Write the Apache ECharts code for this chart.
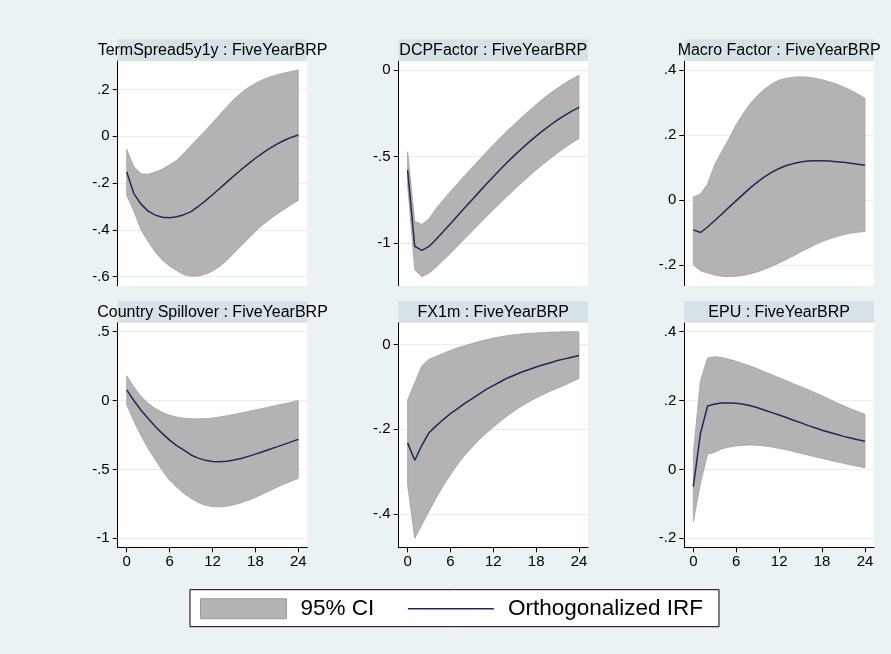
<!DOCTYPE html>
<html><head><meta charset="utf-8">
<script src="https://cdn.jsdelivr.net/npm/echarts@6/dist/echarts.min.js"></script>
<style>html,body{margin:0;padding:0;background:#eaf2f3}#c{width:891px;height:654px}</style>
</head><body><div id="c"></div>
<script>
// ---- data ----
const steps = [0,1,2,3,4,5,6,7,8,9,10,11,12,13,14,15,16,17,18,19,20,21,22,23,24];
const panelTitles = ['TermSpread5y1y : FiveYearBRP','DCPFactor : FiveYearBRP','Macro Factor : FiveYearBRP',
  'Country Spillover : FiveYearBRP','FX1m : FiveYearBRP','EPU : FiveYearBRP'];

const termIrf = [-0.153,-0.245,-0.29,-0.32,-0.337,-0.346,-0.348,-0.344,-0.335,-0.322,-0.30,-0.276,-0.25,-0.223,-0.196,-0.169,-0.143,-0.118,-0.094,-0.072,-0.052,-0.034,-0.018,-0.005,0.005];
const termHi  = [-0.056,-0.13,-0.16,-0.162,-0.153,-0.14,-0.122,-0.103,-0.072,-0.04,-0.008,0.025,0.058,0.092,0.126,0.158,0.186,0.208,0.226,0.241,0.253,0.262,0.27,0.277,0.283];
const termLo  = [-0.253,-0.32,-0.40,-0.45,-0.495,-0.53,-0.555,-0.574,-0.592,-0.598,-0.597,-0.59,-0.576,-0.556,-0.531,-0.50,-0.468,-0.437,-0.407,-0.379,-0.355,-0.333,-0.313,-0.293,-0.274];

const dcpIrf = [-0.579,-1.02,-1.043,-1.02,-0.978,-0.934,-0.889,-0.843,-0.797,-0.751,-0.706,-0.661,-0.617,-0.574,-0.532,-0.492,-0.454,-0.417,-0.382,-0.349,-0.318,-0.289,-0.262,-0.238,-0.216];
const dcpHi  = [-0.473,-0.873,-0.893,-0.86,-0.8,-0.75,-0.703,-0.656,-0.61,-0.565,-0.52,-0.476,-0.433,-0.391,-0.35,-0.311,-0.273,-0.236,-0.2,-0.165,-0.133,-0.104,-0.077,-0.052,-0.03];
const dcpLo  = [-0.666,-1.155,-1.195,-1.175,-1.14,-1.1,-1.06,-1.018,-0.976,-0.934,-0.892,-0.85,-0.809,-0.768,-0.728,-0.689,-0.651,-0.614,-0.578,-0.544,-0.511,-0.48,-0.45,-0.422,-0.396];

const macroIrf = [-0.092,-0.1,-0.083,-0.063,-0.043,-0.022,-0.002,0.018,0.038,0.056,0.072,0.086,0.097,0.106,0.112,0.117,0.12,0.121,0.121,0.12,0.118,0.116,0.113,0.11,0.107];
const macroHi  = [0.01,0.018,0.05,0.11,0.15,0.19,0.232,0.267,0.298,0.322,0.342,0.358,0.369,0.375,0.378,0.379,0.378,0.375,0.37,0.364,0.357,0.348,0.338,0.326,0.313];
const macroLo  = [-0.2,-0.218,-0.225,-0.231,-0.235,-0.236,-0.235,-0.232,-0.227,-0.221,-0.213,-0.204,-0.194,-0.183,-0.172,-0.16,-0.149,-0.138,-0.128,-0.12,-0.113,-0.107,-0.102,-0.099,-0.097];

const spillIrf = [0.078,0.0,-0.07,-0.13,-0.188,-0.24,-0.287,-0.327,-0.36,-0.395,-0.418,-0.434,-0.443,-0.445,-0.441,-0.432,-0.42,-0.405,-0.389,-0.372,-0.354,-0.336,-0.318,-0.3,-0.282];
const spillHi  = [0.18,0.1,0.03,-0.02,-0.058,-0.086,-0.106,-0.12,-0.128,-0.132,-0.133,-0.131,-0.127,-0.119,-0.11,-0.1,-0.09,-0.079,-0.068,-0.057,-0.046,-0.035,-0.024,-0.012,0.0];
const spillLo  = [-0.032,-0.15,-0.255,-0.35,-0.43,-0.51,-0.578,-0.63,-0.675,-0.71,-0.74,-0.76,-0.77,-0.772,-0.767,-0.757,-0.742,-0.724,-0.703,-0.679,-0.655,-0.63,-0.606,-0.585,-0.566];

const fxIrf = [-0.232,-0.273,-0.238,-0.208,-0.192,-0.177,-0.163,-0.151,-0.139,-0.128,-0.117,-0.106,-0.097,-0.088,-0.079,-0.072,-0.065,-0.059,-0.053,-0.048,-0.043,-0.038,-0.034,-0.03,-0.026];
const fxHi  = [-0.131,-0.09,-0.05,-0.035,-0.028,-0.021,-0.014,-0.008,-0.003,0.002,0.007,0.011,0.015,0.018,0.021,0.023,0.025,0.026,0.027,0.028,0.029,0.029,0.03,0.03,0.03];
const fxLo  = [-0.332,-0.457,-0.425,-0.393,-0.362,-0.333,-0.307,-0.283,-0.261,-0.243,-0.225,-0.209,-0.195,-0.181,-0.168,-0.156,-0.145,-0.135,-0.126,-0.118,-0.11,-0.103,-0.096,-0.088,-0.08];

const epuIrf = [-0.05,0.105,0.184,0.19,0.193,0.193,0.192,0.189,0.185,0.179,0.172,0.165,0.158,0.151,0.143,0.136,0.128,0.121,0.114,0.108,0.102,0.096,0.091,0.086,0.082];
const epuHi  = [0.048,0.258,0.324,0.327,0.325,0.32,0.314,0.307,0.3,0.292,0.283,0.275,0.266,0.258,0.249,0.241,0.232,0.223,0.214,0.204,0.194,0.185,0.176,0.168,0.16];
const epuLo  = [-0.152,-0.04,0.044,0.05,0.06,0.065,0.068,0.07,0.071,0.07,0.068,0.065,0.061,0.057,0.052,0.047,0.042,0.037,0.032,0.027,0.022,0.018,0.013,0.009,0.005];

const yTicksTerm  = [-0.6,-0.4,-0.2,0,0.2];
const yTicksDcp   = [-1,-0.5,0];
const yTicksMacro = [-0.2,0,0.2,0.4];
const yTicksSpill = [-1,-0.5,0,0.5];
const yTicksFx    = [-0.4,-0.2,0];
const yTicksEpu   = [-0.2,0,0.2,0.4];
const xTicks = [0,6,12,18,24];
const legendNames = ['95% CI','Orthogonalized IRF'];

// ---- layout / style ----
const FONT = '"Liberation Sans", Arial, Helvetica, sans-serif';
const BAND_FILL = '#b3b3b3', BAND_EDGE = '#a3a3a3', LINE_COLOR = '#1c2a5a';
const STRIP_H = 21.7;
const panels = [
  {irf: termIrf,  lo: termLo,  hi: termHi,  ticks: yTicksTerm,  left:117.7, top:61,    width:189.6, height:224.7, yMin:-0.6385, yMax:0.3215, xAxis:false},
  {irf: dcpIrf,   lo: dcpLo,   hi: dcpHi,   ticks: yTicksDcp,   left:398.6, top:61,    width:189.4, height:224.7, yMin:-1.247,  yMax:0.052,  xAxis:false},
  {irf: macroIrf, lo: macroLo, hi: macroHi, ticks: yTicksMacro, left:684.3, top:61,    width:189.7, height:224.7, yMin:-0.2637, yMax:0.4277, xAxis:false},
  {irf: spillIrf, lo: spillLo, hi: spillHi, ticks: yTicksSpill, left:117.7, top:322.7, width:189.6, height:224.6, yMin:-1.065,  yMax:0.565,  xAxis:true},
  {irf: fxIrf,    lo: fxLo,    hi: fxHi,    ticks: yTicksFx,    left:398.6, top:322.7, width:189.4, height:224.6, yMin:-0.478,  yMax:0.0512, xAxis:true},
  {irf: epuIrf,   lo: epuLo,   hi: epuHi,   ticks: yTicksEpu,   left:684.3, top:322.7, width:189.7, height:224.6, yMin:-0.226,  yMax:0.426,  xAxis:true}
];

function stataFmt(v) {
  const r = Math.round(v * 1000) / 1000;
  if (r === 0) return '0';
  return String(r).replace(/^(-?)0\./, '$1.');
}

const grids = [], xAxes = [], yAxes = [], series = [], graphics = [];
panels.forEach((p, i) => {
  grids.push({left: p.left, top: p.top, width: p.width, height: p.height,
    show: true, backgroundColor: '#ffffff', borderWidth: 0});
  xAxes.push({
    type: 'value', gridIndex: i, min: -1.26, max: 25.26,
    axisLine: {show: p.xAxis, onZero: false, lineStyle: {color: '#000', width: 1}},
    axisTick: {show: p.xAxis, inside: false, length: 5, customValues: xTicks, lineStyle: {color: '#000', width: 1}},
    axisLabel: {show: p.xAxis, customValues: xTicks, margin: 7, fontSize: 15, color: '#000', fontFamily: FONT},
    splitLine: {show: false}
  });
  yAxes.push({
    type: 'value', gridIndex: i, min: p.yMin, max: p.yMax,
    axisLine: {show: true, onZero: false, lineStyle: {color: '#000', width: 1}},
    axisTick: {show: true, inside: false, length: 5, customValues: p.ticks, lineStyle: {color: '#000', width: 1}},
    axisLabel: {show: true, customValues: p.ticks, margin: 8, fontSize: 15, color: '#000', fontFamily: FONT,
      formatter: v => stataFmt(v)},
    splitLine: {show: true, lineStyle: {color: '#e6eef0', width: 1.2}}
  });
  const lo = p.lo, hi = p.hi;
  series.push({
    type: 'custom', name: legendNames[0], xAxisIndex: i, yAxisIndex: i, z: 2,
    itemStyle: {color: BAND_FILL, borderColor: BAND_EDGE},
    data: steps.map((s, k) => [s, lo[k], hi[k]]),
    encode: {x: 0, y: [1, 2]},
    clip: true,
    renderItem: function (params, api) {
      if (params.dataIndex !== 0) return null;
      const pts = [];
      for (let k = 0; k < steps.length; k++) pts.push(api.coord([steps[k], hi[k]]));
      for (let k = steps.length - 1; k >= 0; k--) pts.push(api.coord([steps[k], lo[k]]));
      return {type: 'polygon', shape: {points: pts},
        style: {fill: BAND_FILL, stroke: BAND_EDGE, lineWidth: 0.8}};
    },
    silent: true
  });
  series.push({
    type: 'line', name: legendNames[1], xAxisIndex: i, yAxisIndex: i, z: 3,
    data: steps.map((s, k) => [s, p.irf[k]]),
    showSymbol: false, symbol: 'none', smooth: false,
    lineStyle: {color: LINE_COLOR, width: 1.5}, itemStyle: {color: LINE_COLOR},
    silent: true, animation: false
  });
  // title strip
  graphics.push({type: 'rect', shape: {x: p.left, y: p.top - STRIP_H, width: p.width, height: STRIP_H},
    style: {fill: '#d6e2e7'}, silent: true, z: 1});
  graphics.push({type: 'text', x: p.left + p.width / 2, y: p.top - STRIP_H / 2 + 0.5,
    style: {text: panelTitles[i], fill: '#000', font: '16px ' + FONT, align: 'center', verticalAlign: 'middle'},
    silent: true, z: 2});
});

const chart = echarts.init(document.getElementById('c'), null, {renderer: 'canvas'});
chart.setOption({
  animation: false,
  backgroundColor: '#eaf2f3',
  grid: grids, xAxis: xAxes, yAxis: yAxes, series: series,
  graphic: {elements: graphics},
  legend: {
    left: 190, top: 589.7, orient: 'horizontal',
    backgroundColor: '#ffffff', borderColor: '#000', borderWidth: 1,
    padding: [6, 16, 5, 10],
    itemWidth: 86, itemHeight: 20, itemGap: 33.6,
    selectedMode: false,
    textStyle: {fontSize: 22.5, color: '#000', fontFamily: FONT, lineHeight: 26, padding: [0, 0, 0, 9]},
    data: [
      {name: legendNames[0], icon: 'rect', itemStyle: {color: BAND_FILL, borderColor: '#9a9a9a', borderWidth: 1}},
      {name: legendNames[1], icon: 'path://M0,0L0,20M0,9.3L86,9.3L86,10.7L0,10.7Z',
        itemStyle: {color: LINE_COLOR, borderWidth: 0}}
    ]
  }
});
</script></body></html>
